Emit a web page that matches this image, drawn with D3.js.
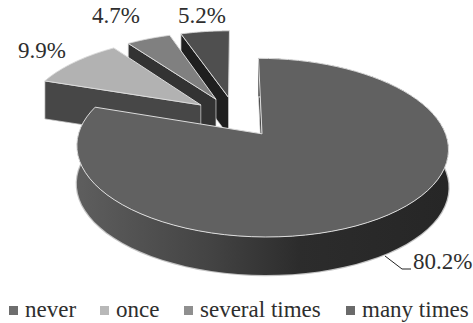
<!DOCTYPE html>
<html>
<head>
<meta charset="utf-8">
<script src="https://cdn.jsdelivr.net/npm/d3@7"></script>
<style>
html,body{margin:0;padding:0;background:#fff}
svg{display:block}
text{font-family:"Liberation Serif",serif;fill:#2e2e2e}
</style>
</head>
<body>
<svg id="chart" width="473" height="323"></svg>
<script>
const categories = ["never", "once", "several times", "many times"];
const shares = [80.2, 9.9, 4.7, 5.2];
const valueLabels = ["80.2%", "9.9%", "4.7%", "5.2%"];
const topColors = ["#616161", "#b2b2b2", "#808080", "#4f4f4f"];
const wallColors = ["#333333", "#474747", "#333333", "#1f1f1f"];
const legendColors = ["#6e6e6e", "#b8b8b8", "#8f8f8f", "#6a6a6a"];
const legendSwatchX = [9, 100, 184, 346];
const labelAnchors = [[413, 269], [18, 58], [92, 23], [178, 23]];

// Tilted-disc camera: disc units are mapped to the screen with a perspective divide.
const camera = {cx: 235.5, cy: 116.8, rx: 178, ry: 82, k: 0.15, depth: 38, explode: 0.248};

function project(x, v, z) {
  const w = 1 - camera.k * v;
  return [camera.cx + camera.rx * x / w, camera.cy + camera.ry * v / w + z * camera.depth];
}

const pieLayout = d3.pie().sort(null).value(d => d);
const arcs = pieLayout(shares);
const svg = d3.select("#chart");
const line = d3.line();

const defs = svg.append("defs");
const rimGrad = defs.append("linearGradient").attr("id", "rimShade")
  .attr("gradientUnits", "userSpaceOnUse")
  .attr("x1", 77).attr("x2", 448).attr("y1", 0).attr("y2", 0);
[[0, "#5e5e5e"], [0.35, "#444444"], [0.6, "#2c2c2c"], [1, "#262626"]].forEach(([o, c]) =>
  rimGrad.append("stop").attr("offset", o).attr("stop-color", c));

function slicePoints(a) {
  const mid = (a.startAngle + a.endAngle) / 2;
  const ox = camera.explode * Math.sin(mid), ov = -camera.explode * Math.cos(mid);
  const point = (t, r, z) => project(ox + r * Math.sin(t), ov - r * Math.cos(t), z);
  const steps = d3.range(0, 81).map(i => a.startAngle + (a.endAngle - a.startAngle) * i / 80);
  return {point, steps};
}

// Slices are painted back to front: the small exploded ones first, the large one last.
[3, 2, 1, 0].forEach(i => {
  const a = arcs[i];
  const {point, steps} = slicePoints(a);
  const g = svg.append("g");

  const rimTop = steps.map(t => point(t, 1, 0));
  const rimBottom = steps.map(t => point(t, 1, 1)).reverse();

  // Only the wall facing the viewer is drawn; the far one stays behind the top face.
  const t = a.startAngle;
  const wall = [point(t, 0, 0), point(t, 1, 0), point(t, 1, 1), point(t, 0, 1)];
  g.append("path").attr("d", line(wall) + "Z")
    .attr("fill", wallColors[i])
    .attr("stroke", "#d8d8d8").attr("stroke-width", 0.7);

  // The outer rim only shows on the large slice, whose edge faces forward.
  if (i === 0) {
    g.append("path")
      .attr("d", line(rimBottom))
      .attr("fill", "none")
      .attr("stroke", "#c4c4c4")
      .attr("stroke-width", 2.4);
    g.append("path")
      .attr("d", line(rimTop.concat(rimBottom)) + "Z")
      .attr("fill", "url(#rimShade)");
  }

  // Top face of the slice.
  const face = [point(a.startAngle, 0, 0)].concat(rimTop);
  g.append("path").attr("d", line(face) + "Z")
    .attr("fill", topColors[i])
    .attr("stroke", "#dcdcdc").attr("stroke-width", 1)
    .attr("stroke-linejoin", "round");
});

// Value labels with the leader line for the largest slice.
svg.append("path")
  .attr("d", line([[385, 256], [402, 269], [411, 269]]))
  .attr("fill", "none").attr("stroke", "#222").attr("stroke-width", 1);

svg.selectAll("text.value").data(valueLabels).join("text")
  .attr("class", "value")
  .attr("x", (d, i) => labelAnchors[i][0])
  .attr("y", (d, i) => labelAnchors[i][1])
  .attr("font-size", 23)
  .text(d => d);

// Legend row.
const legend = svg.selectAll("g.legend").data(categories).join("g").attr("class", "legend");
legend.append("rect")
  .attr("x", (d, i) => legendSwatchX[i]).attr("y", 306)
  .attr("width", 9).attr("height", 9)
  .attr("fill", (d, i) => legendColors[i]);
legend.append("text")
  .attr("x", (d, i) => legendSwatchX[i] + 16).attr("y", 317)
  .attr("font-size", 23)
  .text(d => d);
</script>
</body>
</html>
